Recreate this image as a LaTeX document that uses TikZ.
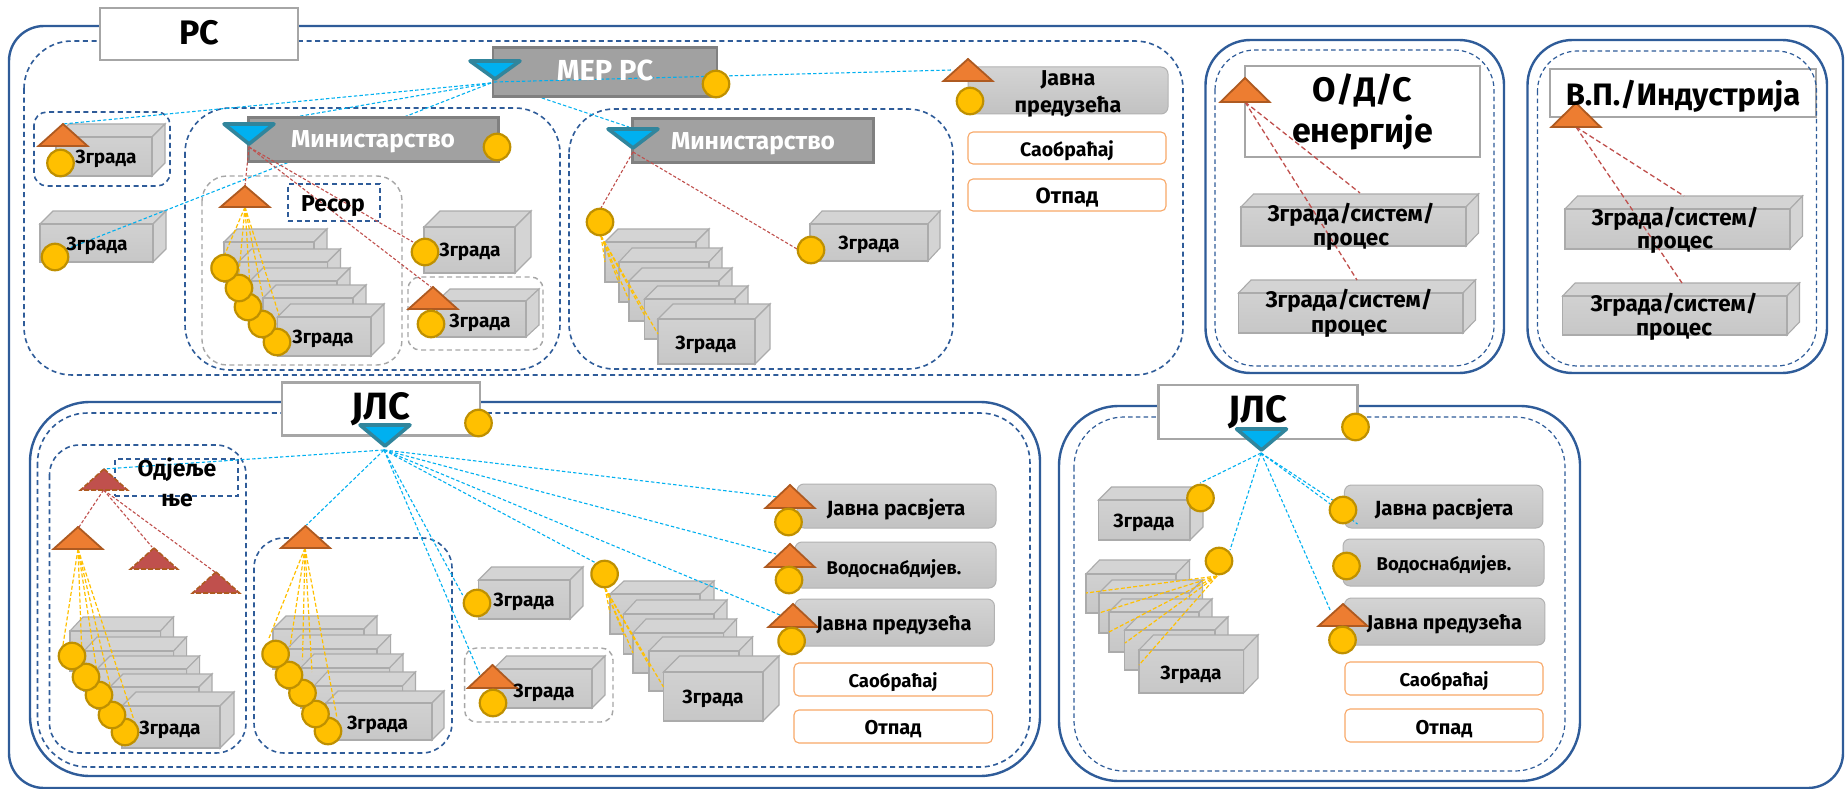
\documentclass[tikz,border=0pt]{standalone}
\usepackage{fontspec}
\setmainfont{Fira Sans}
\usetikzlibrary{calc}
\definecolor{navy}{HTML}{2F5C99}
\definecolor{gbord}{HTML}{A6A6A6}
\definecolor{skyb}{HTML}{00B0F0}
\definecolor{teal2}{HTML}{31859C}
\definecolor{redl}{HTML}{C0504D}
\definecolor{amber}{HTML}{FFC000}
\definecolor{amberd}{HTML}{BF9000}
\definecolor{orng}{HTML}{ED7D31}
\definecolor{orngd}{HTML}{AE5A21}
\definecolor{peach}{HTML}{F8A868}
\tikzset{
 outerbox/.style={draw=navy,line width=2.4pt,rounded corners=#1,fill=white},
 dashbox/.style={draw=navy,line width=1.6pt,dash pattern=on 5pt off 3.6pt,rounded corners=#1},
 thinbox/.style={draw=navy,line width=1.2pt,dash pattern=on 4.5pt off 3.2pt,rounded corners=#1},
 graydash/.style={draw=gbord,line width=1.4pt,dash pattern=on 5pt off 3.6pt,rounded corners=#1},
 label/.style={draw=gbord,line width=2.6pt,fill=white},
 mgrbox/.style={draw=black!50,line width=2.2pt,fill=black!37},
 bldfront/.style={draw=black!33,line width=1.1pt,top color=black!18,bottom color=black!22},
 bldside/.style={draw=black!33,line width=1.1pt,fill=black!17},
 svc/.style={draw=black!30,line width=1pt,rounded corners=7pt,top color=black!17,bottom color=black!24},
 rbox/.style={draw=peach,line width=1.1pt,rounded corners=5pt,fill=white},
 coin/.style={circle,draw=amberd,fill=amber,line width=2.2pt,minimum size=26.5pt,inner sep=0pt},
 otrist/.style={fill=orng,draw=orngd,line width=1.8pt,line join=miter},
 rtrist/.style={fill=redl,draw=orngd,line width=1.6pt,dash pattern=on 5pt off 2pt},
 btrist/.style={fill=skyb,draw=teal2,line width=3.6pt,line join=round},
 bluelink/.style={draw=skyb,line width=1.1pt,dash pattern=on 3.4pt off 2.2pt},
 redlink/.style={draw=redl,line width=1.1pt,dash pattern=on 3.2pt off 2pt},
 redlinkb/.style={draw=redl,line width=1.3pt,dash pattern=on 5pt off 3pt},
 yellink/.style={draw=amber,line width=1.2pt,dash pattern=on 4pt off 2.2pt},
 tb/.style={font=\bfseries\fontsize{#1}{#1}\selectfont,inner sep=0pt,align=center,text=black,yshift=-2pt},
 tbig/.style={font=\bfseries\fontsize{#1}{#1}\selectfont,inner sep=0pt,align=center,text=black},
 tw/.style={font=\bfseries\fontsize{#1}{#1}\selectfont,inner sep=0pt,text=white},
}
\newcommand\bldg[6]{%
 \path[bldside] (#1,#2) -- ++(#5,-#6) -- (#3+#5,#2-#6) -- (#3,#2) -- cycle;
 \path[bldside] (#3,#2) -- (#3+#5,#2-#6) -- (#3+#5,#4-#6) -- (#3,#4) -- cycle;
 \path[bldfront] (#1,#2) rectangle (#3,#4);
}
\newcommand\otri[3]{\path[otrist] (#1,#2) -- (#1+24.5,#3) -- (#1-24.5,#3) -- cycle;}
\newcommand\rtri[3]{\path[rtrist] (#1,#2) -- (#1+23.5,#3) -- (#1-23.5,#3) -- cycle;}
\newcommand\btri[3]{\path[btrist] (#1-25,#2+2) -- (#1+25,#2+2) -- (#1,#3-3) -- cycle;}
\newcommand\zgr[3]{\node[tb=19] (#1) at (#2,#3) {Зграда};}
\begin{document}
\begin{tikzpicture}[x=1pt,y=-1pt]
\useasboundingbox (0,0) rectangle (1845,789);
% connector anchors
\coordinate (merTip) at (491,83);
\coordinate (merTipB) at (494,82);
\coordinate (b1Top) at (63,124);
\coordinate (min1Hid) at (249,125);
\coordinate (b2Hit) at (67,249);
\coordinate (min2Hid) at (629,127);
\coordinate (jpTop) at (952,70);
\coordinate (min1Tip) at (249,147);
\coordinate (resTop) at (245,186);
\coordinate (resBot) at (245,207);
\coordinate (b3Hit) at (413,242);
\coordinate (t4Top) at (431,287);
\coordinate (min2Tip) at (633,152);
\coordinate (c6Top) at (601,208);
\coordinate (c6Bot) at (601,236);
\coordinate (b6Hit) at (797,249);
\coordinate (odsTri) at (1245,102);
\coordinate (ods1) at (1360,193);
\coordinate (ods2) at (1357,280);
\coordinate (vpTri) at (1576,127);
\coordinate (vp1) at (1684,196);
\coordinate (vp2) at (1682,283);
\coordinate (jTip) at (384,450);
\coordinate (jRed) at (103.6,469);
\coordinate (jRedB) at (103.6,490);
\coordinate (jO1) at (79,527);
\coordinate (jO1b) at (78,549);
\coordinate (jR2) at (152,547);
\coordinate (jR3) at (215,572);
\coordinate (jO2) at (306.5,525);
\coordinate (jO2b) at (305,548);
\coordinate (jB1) at (462.6,595);
\coordinate (jT1) at (480,675);
\coordinate (jC1) at (596,563);
\coordinate (jC1b) at (605,588);
\coordinate (jS1) at (778,497);
\coordinate (jS2) at (776,554);
\coordinate (jS3) at (780,615);
\coordinate (kTip) at (1261,453);
\coordinate (kB) at (1200,483);
\coordinate (kC) at (1230,550);
\coordinate (kCb) at (1217,576);
\coordinate (kT) at (1330.6,611);
\coordinate (kS) at (1332.6,500);
\coordinate (kSb) at (1357.5,524);
% ------- RS container
\path[outerbox=35pt] (9,26) rectangle (1843,788);
\path[dashbox=48pt] (24,41) rectangle (1183,375);
\path[dashbox=13pt] (34,112) rectangle (170,186);
\path[dashbox=45pt] (185,108) rectangle (560,370);
\path[dashbox=45pt] (569,109) rectangle (953,369);
\path[graydash=25pt] (202,176) rectangle (402,365);
\path[graydash=12pt] (408,277) rectangle (543,350);
\node[label,minimum width=198pt,minimum height=52pt] (rs) at (199,34) {};
% buildings of RS
\bldg{56}{137}{152}{176}{13}{13}
\bldg{40}{224}{153}{262}{13}{13}
\bldg{224}{242}{314}{282}{13}{13}
\bldg{238.5}{262}{327.5}{302}{13}{13}
\bldg{250}{281}{337}{321}{13}{13}
\bldg{263}{298}{353}{338}{13}{13}
\bldg{277.5}{317}{371}{356}{13}{13}
\bldg{424}{227}{515}{273}{16}{16}
\bldg{437}{301}{526}{337}{13}{12}
\bldg{605}{242}{696}{282}{13}{13}
\bldg{619}{262}{709}{302}{13}{14}
\bldg{629}{281}{719}{321}{13}{13}
\bldg{644.5}{299}{735}{339}{13}{13}
\bldg{658}{319}{755}{364}{15}{15}
\bldg{810}{224}{928}{261}{12}{13}
% links under the grey boxes
\draw[bluelink] (merTip) -- (b1Top);
\draw[bluelink] (merTip) -- (min1Hid);
\draw[bluelink] (merTip) -- (b2Hit);
\draw[bluelink] (merTipB) -- (min2Hid);
% grey management boxes
\node[mgrbox,minimum width=224pt,minimum height=49pt] (mer) at (605,72) {};
\node[mgrbox,minimum width=250pt,minimum height=44pt] (min1) at (373.5,139.5) {};
\node[mgrbox,minimum width=241pt,minimum height=44pt] (min2) at (753,140.5) {};
% service boxes
\node[svc,minimum width=200pt,minimum height=47pt] (jp) at (1068,90.5) {};
\node[rbox,minimum width=198pt,minimum height=32pt] (sa1) at (1067,148) {};
\node[rbox,minimum width=198pt,minimum height=32pt] (ot1) at (1067,195) {};
\draw[bluelink] (merTipB) -- (jpTop);
% resor box
\node[draw=navy,line width=1.6pt,dash pattern=on 5pt off 3.6pt,minimum width=92pt,minimum height=37pt] (res) at (334,202.5) {};
% links
\draw[yellink] (resBot) -- (224.6,255);
\draw[yellink] (resBot) -- (239,273);
\draw[yellink] (resBot) -- (250,287);
\draw[yellink] (resBot) -- (263,298);
\draw[yellink] (resBot) -- (279,315);
\draw[redlink] (min1Tip) -- (resTop);
\draw[redlink] (min1Tip) -- (b3Hit);
\draw[redlink] (min1Tip) -- (t4Top);
\draw[redlink] (min2Tip) -- (c6Top);
\draw[redlink] (min2Tip) -- (b6Hit);
\draw[yellink] (c6Bot) -- (605,262);
\draw[yellink] (c6Bot) -- (619,283);
\draw[yellink] (c6Bot) -- (629,300);
\draw[yellink] (c6Bot) -- (644.5,315);
\draw[yellink] (c6Bot) -- (658,334);
% RS icons
\btri{495}{59}{82}
\btri{249}{122}{147}
\btri{633}{127}{151}
\otri{63}{124}{146}
\otri{245}{186}{207}
\otri{433}{287}{309}
\otri{968}{59}{81}
\node[coin] (cm) at (716,84) {};
\node[coin] (cb1) at (60.5,163) {};
\node[coin] (cb2) at (55,257) {};
\node[coin] (cmi1) at (497,147) {};
\node[coin] (cs5) at (277,342) {};
\node[coin] (cs4) at (262,324) {};
\node[coin] (cs3) at (248,307) {};
\node[coin] (cs2) at (239,288) {};
\node[coin] (cs1) at (224.6,268) {};
\node[coin] (cb3) at (425,252) {};
\node[coin] (cb4) at (431,324) {};
\node[coin] (cs6) at (600,222) {};
\node[coin] (cb6) at (811,250) {};
\node[coin] (cjp) at (970,101) {};
% RS texts
\node[tbig=34] (trs) at (199,33) {РС};
\node[tw=29] (tmer) at (605,70) {МЕР РС};
\node[tw=24.5,yshift=-2pt] (tmi1) at (373,140) {Министарство};
\node[tw=24.5,yshift=-2pt] (tmi2) at (753,142) {Министарство};
\zgr{z1}{106}{157}
\zgr{z2}{97}{244}
\zgr{z3}{323}{337}
\zgr{z4}{470}{250}
\zgr{z5}{480}{321}
\zgr{z6}{706}{343}
\zgr{z7}{869}{243}
\node[tb=23] (tres) at (333,204) {Ресор};
\node[tb=21.5] (tjp1) at (1068,78) {Јавна};
\node[tb=21.5] (tjp2) at (1068,105) {предузећа};
\node[tb=19.5] (tsa1) at (1067,149) {Саобраћај};
\node[tb=22] (tot1) at (1067,196) {Отпад};
% ------- O/D/S
\path[outerbox=45pt] (1205.5,40) rectangle (1504,373);
\node[label,minimum width=235pt,minimum height=91pt] (ods) at (1362.5,111.5) {};
\path[thinbox=40pt] (1215,50) rectangle (1494,366);
\bldg{1241}{207}{1466}{246}{12.5}{13}
\bldg{1238.5}{293}{1463}{333}{12.5}{13}
\draw[redlinkb] (odsTri) -- (ods1);
\draw[redlinkb] (odsTri) -- (ods2);
\otri{1245}{78}{102}
\node[tbig=34] (tods) at (1362.5,112) {О/Д/С\\[7pt]енергије};
\node[tb=22.5] (toa) at (1351,213) {Зграда/систем/};
\node[tb=22.5] (tob) at (1351,240) {процес};
\node[tb=22.5] (toc) at (1349,299) {Зграда/систем/};
\node[tb=22.5] (tod) at (1349,327) {процес};
% ------- V.P.
\path[outerbox=45pt] (1527.5,40) rectangle (1827,373);
\node[label,minimum width=266pt,minimum height=48pt] (vp) at (1683,93) {};
\path[thinbox=40pt] (1537.5,51) rectangle (1816.5,366);
\bldg{1565}{209}{1790}{249}{12.5}{13}
\bldg{1562.6}{296}{1787}{335}{12.5}{13}
\draw[redlinkb] (vpTri) -- (vp1);
\draw[redlinkb] (vpTri) -- (vp2);
\otri{1576}{103}{127}
\node[tb=31] (tvp) at (1683,94) {В.П./Индустрија};
\node[tb=22.5] (tva) at (1675,217) {Зграда/систем/};
\node[tb=22.5] (tvb) at (1675,243) {процес};
\node[tb=22.5] (tvc) at (1674,303) {Зграда/систем/};
\node[tb=22.5] (tvd) at (1674,330) {процес};
% ------- JLS 1
\path[outerbox=60pt] (30,402) rectangle (1040,776);
\path[dashbox=50pt] (37.5,413) rectangle (1030,767);
\path[dashbox=30pt] (49.5,445) rectangle (246,753);
\path[dashbox=30pt] (254,538) rectangle (452,753);
\path[graydash=12pt] (464.6,648) rectangle (613,722);
\node[label,minimum width=198pt,minimum height=53pt] (jls1) at (381,409) {};
\node[draw=navy,line width=1.6pt,dash pattern=on 5pt off 3.6pt,minimum width=123pt,minimum height=37pt] (odj) at (176.5,477.5) {};
\bldg{70}{631}{160.5}{671}{13}{14}
\bldg{84}{651}{173.6}{691}{13}{14}
\bldg{97}{669}{186.6}{709}{13}{13}
\bldg{110}{687}{199}{727}{13}{13}
\bldg{122}{706}{220}{748}{14}{14}
\bldg{273}{629}{364}{669}{13}{13}
\bldg{287}{649}{377}{689}{13.6}{14}
\bldg{300.5}{668}{389.5}{708}{13.5}{14}
\bldg{314}{686}{402.5}{726}{13}{14}
\bldg{326}{703}{432}{740}{12}{12}
\bldg{478.5}{580}{570}{619}{13}{13}
\bldg{493.5}{669}{592}{708}{13}{13}
\bldg{610}{594}{700}{634}{14}{13}
\bldg{623.6}{614}{714}{654}{13}{14}
\bldg{633}{633}{723.6}{673}{13}{14}
\bldg{649}{651}{739}{691}{13.5}{14}
\bldg{663.5}{672}{763}{721}{16}{16}
\node[svc,minimum width=199pt,minimum height=44pt] (s1) at (896.5,506) {};
\node[svc,minimum width=201pt,minimum height=46pt] (s2) at (895.5,565) {};
\node[svc,minimum width=199.5pt,minimum height=47pt] (s3) at (894.7,622.5) {};
\node[rbox,minimum width=198.5pt,minimum height=33pt] (s4) at (893.2,679.5) {};
\node[rbox,minimum width=198.5pt,minimum height=33pt] (s5) at (893.2,726.5) {};
\draw[bluelink] (jTip) -- (jRed);
\draw[bluelink] (jTip) -- (jO2);
\draw[bluelink] (jTip) -- (jB1);
\draw[bluelink] (jTip) -- (jT1);
\draw[bluelink] (jTip) -- (jC1);
\draw[bluelink] (jTip) -- (jS1);
\draw[bluelink] (jTip) -- (jS2);
\draw[bluelink] (jTip) -- (jS3);
\draw[redlink] (jRedB) -- (jO1);
\draw[redlink] (jRedB) -- (jR2);
\draw[redlink] (jRedB) -- (jR3);
\draw[yellink] (jO1b) -- (63,645);
\draw[yellink] (jO1b) -- (82,657);
\draw[yellink] (jO1b) -- (97,672);
\draw[yellink] (jO1b) -- (110.7,688);
\draw[yellink] (jO1b) -- (134,720);
\draw[yellink] (jO2b) -- (269,638);
\draw[yellink] (jO2b) -- (290,647);
\draw[yellink] (jO2b) -- (302.5,660);
\draw[yellink] (jO2b) -- (312,672);
\draw[yellink] (jO2b) -- (337,718);
\draw[yellink] (jC1b) -- (610,613);
\draw[yellink] (jC1b) -- (624,635);
\draw[yellink] (jC1b) -- (633,653);
\draw[yellink] (jC1b) -- (650,667);
\draw[yellink] (jC1b) -- (663.5,687);
\btri{385}{423}{449}
\rtri{104}{469}{490}
\rtri{154}{548}{569}
\rtri{216}{572}{593}
\otri{78}{527}{549}
\otri{305.5}{526}{548}
\otri{492.5}{665}{688}
\otri{790}{485}{508}
\otri{790}{544}{567}
\otri{793}{604}{627}
\node[coin] (cj) at (478.5,423) {};
\node[coin] (c1e) at (125,732) {};
\node[coin] (c1d) at (112,715) {};
\node[coin] (c1c) at (99,695) {};
\node[coin] (c1b) at (86,677) {};
\node[coin] (c1a) at (72,656) {};
\node[coin] (c2e) at (328,731) {};
\node[coin] (c2d) at (315.5,714) {};
\node[coin] (c2c) at (302.5,693) {};
\node[coin] (c2b) at (289,675) {};
\node[coin] (c2a) at (275.6,654) {};
\node[coin] (c3) at (477,603) {};
\node[coin] (c4) at (493,703) {};
\node[coin] (c5) at (604.6,574) {};
\node[coin] (c6) at (788.5,522) {};
\node[coin] (c7) at (789,580) {};
\node[coin] (c8) at (791.6,641) {};
\node[tbig=38] (tj1) at (381,409) {ЈЛС};
\node[tb=23] (todj) at (177,480) {Одјеље\\[7pt]ње};
\zgr{y1}{170}{728}
\zgr{y2}{377.6}{723}
\zgr{y3}{524}{600}
\zgr{y4}{544}{691}
\zgr{y5}{713}{697}
\node[tb=20.5] (ts1) at (896,507) {Јавна расвјета};
\node[tb=18.5] (ts2) at (894,567) {Водоснабдијев.};
\node[tb=20] (ts3) at (894,623) {Јавна предузећа};
\node[tb=18.5] (ts4) at (893,680) {Саобраћај};
\node[tb=20] (ts5) at (893,727) {Отпад};
% ------- JLS 2
\path[outerbox=60pt] (1059,406) rectangle (1580,781);
\path[thinbox=50pt] (1074,417) rectangle (1565,771);
\node[label,minimum width=199pt,minimum height=54pt] (jls2) at (1258,412) {};
\bldg{1098.5}{500}{1190}{540}{13}{13}
\bldg{1086}{574}{1176}{613}{13.5}{14}
\bldg{1099}{593}{1189.5}{633}{13}{13}
\bldg{1109}{612}{1199}{652}{13}{13}
\bldg{1124.6}{630}{1215}{670}{13}{13}
\bldg{1139}{650}{1243.6}{693}{14.4}{15}
\node[svc,minimum width=198.5pt,minimum height=43pt] (k1) at (1443.7,506.5) {};
\node[svc,minimum width=201pt,minimum height=47pt] (k2) at (1443.5,562.5) {};
\node[svc,minimum width=200.5pt,minimum height=47pt] (k3) at (1444.7,621.5) {};
\node[rbox,minimum width=198pt,minimum height=33pt] (k4) at (1444,678.5) {};
\node[rbox,minimum width=198pt,minimum height=33pt] (k5) at (1444,725.5) {};
\draw[bluelink] (kTip) -- (kB);
\draw[bluelink] (kTip) -- (kC);
\draw[bluelink] (kTip) -- (kT);
\draw[bluelink] (kTip) -- (kS);
\draw[bluelink] (kTip) -- (kSb);
\draw[yellink] (kCb) -- (1086,593);
\draw[yellink] (kCb) -- (1099,613);
\draw[yellink] (kCb) -- (1109,632);
\draw[yellink] (kCb) -- (1125,643);
\draw[yellink] (kCb) -- (1139,665);
\btri{1261.5}{427}{453}
\otri{1343}{604}{626}
\node[coin] (d1) at (1355.5,427) {};
\node[coin] (d2) at (1200.5,498) {};
\node[coin] (d3) at (1219,561) {};
\node[coin] (d4) at (1343,510) {};
\node[coin] (d5) at (1346.5,566) {};
\node[coin] (d6) at (1342.5,640) {};
\node[tbig=38] (tj2) at (1257.5,412) {ЈЛС};
\zgr{x1}{1144}{521}
\zgr{x2}{1191}{673}
\node[tb=20.5] (tk1) at (1444,507) {Јавна расвјета};
\node[tb=18.5] (tk2) at (1444,563) {Водоснабдијев.};
\node[tb=20] (tk3) at (1444.5,622) {Јавна предузећа};
\node[tb=18.5] (tk4) at (1444,679) {Саобраћај};
\node[tb=20] (tk5) at (1444,727) {Отпад};
\end{tikzpicture}
\end{document}
